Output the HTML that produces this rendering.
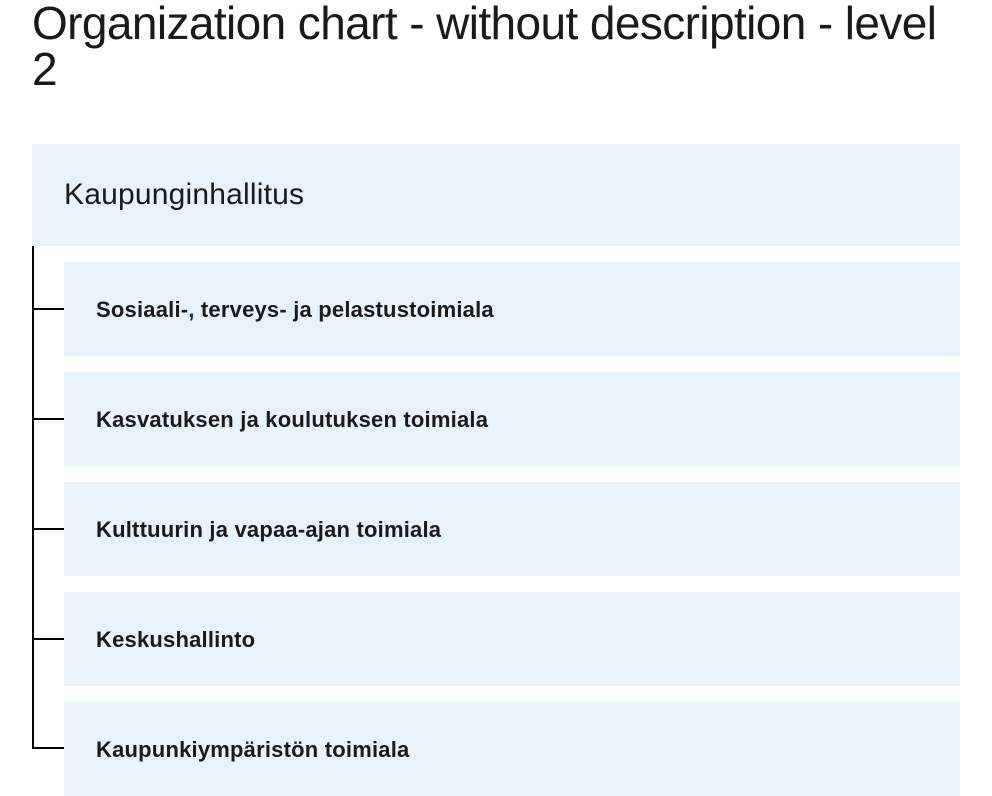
<!DOCTYPE html>
<html><head><meta charset="utf-8"><style>
body{margin:0;width:992px;height:796px;background:#fff;font-family:"Liberation Sans",sans-serif;color:#1a1a1a;position:relative;overflow:hidden}
h1{position:absolute;left:32px;top:0;margin:0;font-weight:400;font-size:46px;line-height:46px;letter-spacing:-0.6px;width:960px;white-space:nowrap}
.top{position:absolute;left:32px;top:144px;width:928px;height:102px;background:#e8f2fb}
.top span{position:absolute;left:32px;top:34px;font-size:30px;letter-spacing:0.2px}
.child{position:absolute;left:64px;width:896px;height:94px;background:#e8f2fb}
.child span{position:absolute;left:32px;top:35px;font-size:22px;font-weight:700;letter-spacing:0.2px}
.v{position:absolute;left:32px;top:246px;width:2px;height:503px;background:#000}
.h{position:absolute;left:32px;width:32px;height:2px;background:#000}
</style></head><body>
<h1>Organization chart - without description - level<br>2</h1>
<div class="top"><span>Kaupunginhallitus</span></div>
<div class="v"></div>
<div class="h" style="top:308px"></div>
<div class="h" style="top:418px"></div>
<div class="h" style="top:528px"></div>
<div class="h" style="top:638px"></div>
<div class="h" style="top:747px"></div>
<div class="child" style="top:262px"><span>Sosiaali-, terveys- ja pelastustoimiala</span></div>
<div class="child" style="top:372px"><span>Kasvatuksen ja koulutuksen toimiala</span></div>
<div class="child" style="top:482px"><span>Kulttuurin ja vapaa-ajan toimiala</span></div>
<div class="child" style="top:592px"><span>Keskushallinto</span></div>
<div class="child" style="top:702px"><span>Kaupunkiympäristön toimiala</span></div>
</body></html>
